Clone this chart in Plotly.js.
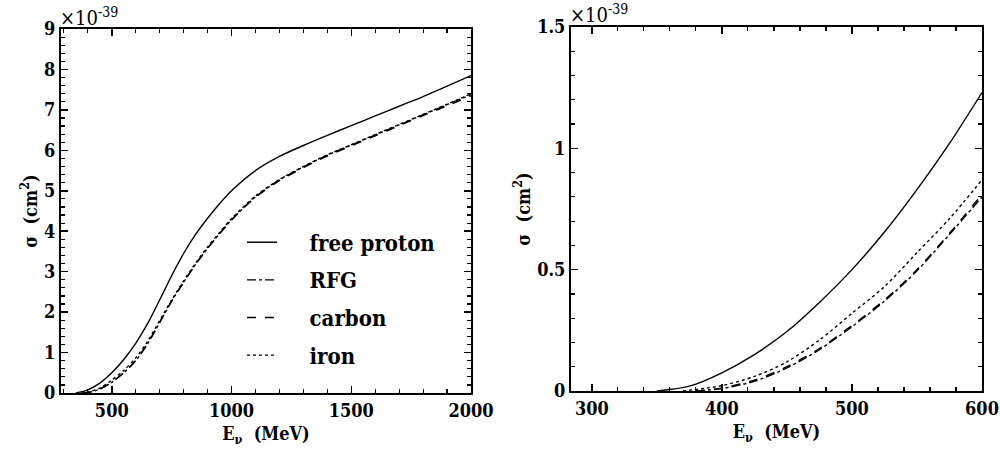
<!DOCTYPE html>
<html>
<head>
<meta charset="utf-8">
<script src="https://cdn.plot.ly/plotly-3.0.1.min.js"></script>
<style>html,body{margin:0;padding:0;background:#fff}#chart{width:1000px;height:452px}</style>
</head>
<body>
<div id="chart"></div>
<script>
// Left panel: E (MeV) vs sigma (1e-39 cm^2)
const leftProtonE = [350, 400, 450, 500, 550, 600, 650, 700, 750, 800, 850, 900, 950, 1000, 1100, 1200, 1300, 1400, 1500, 1600, 1700, 1800, 1900, 2000];
const leftProtonS = [0, 0.08, 0.245, 0.5, 0.83, 1.23, 1.72, 2.3, 2.9, 3.45, 3.92, 4.32, 4.68, 5.0, 5.5, 5.85, 6.12, 6.37, 6.61, 6.85, 7.09, 7.33, 7.59, 7.85];
const leftNuclE = [380, 400, 450, 500, 550, 600, 650, 700, 750, 800, 850, 900, 950, 1000, 1100, 1200, 1300, 1400, 1500, 1600, 1700, 1800, 1900, 2000];
const leftRFGS = [0, 0.01, 0.095, 0.265, 0.5, 0.8, 1.22, 1.74, 2.27, 2.74, 3.18, 3.58, 3.94, 4.28, 4.85, 5.27, 5.59, 5.88, 6.13, 6.38, 6.63, 6.88, 7.13, 7.38];
const leftCarbonS = [0, 0.012, 0.1, 0.27, 0.5, 0.81, 1.23, 1.75, 2.27, 2.74, 3.18, 3.58, 3.94, 4.28, 4.84, 5.25, 5.57, 5.86, 6.11, 6.36, 6.61, 6.86, 7.1, 7.35];
const leftIronE = [370, 400, 450, 500, 550, 600, 650, 700, 750, 800, 850, 900, 950, 1000, 1100, 1200, 1300, 1400, 1500, 1600, 1700, 1800, 1900, 2000];
const leftIronS = [0, 0.022, 0.12, 0.32, 0.56, 0.87, 1.28, 1.79, 2.3, 2.77, 3.21, 3.61, 3.97, 4.31, 4.87, 5.28, 5.6, 5.89, 6.14, 6.39, 6.64, 6.89, 7.14, 7.4];

// Right panel: zoom on threshold region
const rightProtonE = [350, 375, 400, 425, 450, 475, 500, 525, 550, 575, 600];
const rightProtonS = [0, 0.02, 0.075, 0.15, 0.245, 0.365, 0.50, 0.655, 0.83, 1.02, 1.23];
const rightRFGE = [380, 400, 425, 450, 475, 500, 525, 550, 575, 600];
const rightRFGS = [0, 0.01, 0.04, 0.095, 0.17, 0.265, 0.37, 0.495, 0.645, 0.80];
const rightCarbonE = [380, 400, 425, 450, 475, 500, 525, 550, 575, 600];
const rightCarbonS = [0, 0.012, 0.045, 0.10, 0.175, 0.27, 0.375, 0.50, 0.65, 0.81];
const rightIronE = [370, 400, 425, 450, 475, 500, 525, 550, 575, 600];
const rightIronS = [0, 0.022, 0.06, 0.12, 0.21, 0.32, 0.43, 0.57, 0.71, 0.87];

const leftXTicks = [500, 1000, 1500, 2000];
const leftYTicks = [0, 1, 2, 3, 4, 5, 6, 7, 8, 9];
const rightXTicks = [300, 400, 500, 600];
const rightYTicks = [0, 0.5, 1, 1.5];
const rightYLabels = ['0', '0.5', '1', '1.5'];

const seriesNames = ['free proton', 'RFG', 'carbon', 'iron'];
const dashes = ['solid', 'dashdot', 'dash', 'dot'];
const pad = '\u00a0\u00a0\u00a0\u00a0';

const leftX = [leftProtonE, leftNuclE, leftNuclE, leftIronE];
const leftY = [leftProtonS, leftRFGS, leftCarbonS, leftIronS];
const rightX = [rightProtonE, rightRFGE, rightCarbonE, rightIronE];
const rightY = [rightProtonS, rightRFGS, rightCarbonS, rightIronS];

const traces = [];
for (let i = 0; i < 4; i++) {
  traces.push({
    x: leftX[i], y: leftY[i], type: 'scatter', mode: 'lines',
    name: pad + seriesNames[i], legendgroup: 'g' + i,
    line: {color: '#000', width: 1.4, dash: dashes[i], shape: 'spline', smoothing: 0.8},
    xaxis: 'x', yaxis: 'y'
  });
}
for (let i = 0; i < 4; i++) {
  traces.push({
    x: rightX[i], y: rightY[i], type: 'scatter', mode: 'lines',
    name: seriesNames[i], showlegend: false,
    line: {color: '#000', width: 1.4, dash: dashes[i], shape: 'spline', smoothing: 0.8},
    xaxis: 'x2', yaxis: 'y2'
  });
}

const SERIF = '"DejaVu Serif Condensed", "DejaVu Serif", serif';
const tickFont = {family: SERIF, size: 18, color: '#000', weight: 'bold'};
const titleFont = {family: SERIF, size: 18, color: '#000', weight: 'bold'};

function axisBase() {
  return {
    showline: true, linecolor: '#000', linewidth: 2, mirror: 'allticks',
    ticks: 'inside', ticklen: 7, tickwidth: 1.5, tickcolor: '#000',
    showgrid: false, zeroline: false, tickfont: tickFont, fixedrange: true,
    ticklabeloverflow: 'allow'
  };
}

const layout = {
  width: 1000, height: 452,
  margin: {l: 0, r: 0, t: 0, b: 0},
  paper_bgcolor: '#fff', plot_bgcolor: '#fff',
  font: {family: SERIF, color: '#000'},
  showlegend: true,
  legend: {
    x: 0.242, y: 0.51, xanchor: 'left', yanchor: 'top',
    bgcolor: 'rgba(0,0,0,0)', traceorder: 'grouped', tracegroupgap: 6,
    font: {family: SERIF, size: 22, color: '#000', weight: 'bold'},
    itemwidth: 30
  },
  xaxis: Object.assign(axisBase(), {
    domain: [0.061, 0.471], range: [288, 2000], tickvals: leftXTicks,
    minor: {dtick: 100, tick0: 0, ticks: 'inside', ticklen: 4, tickcolor: '#000', tickwidth: 1.2},
    title: {text: 'E<sub>ν</sub>  (MeV)', font: titleFont, standoff: 8}, anchor: 'y'
  }),
  yaxis: Object.assign(axisBase(), {
    domain: [0.1305, 0.9358], range: [0, 9], tickvals: leftYTicks,
    minor: {dtick: 0.2, tick0: 0, ticks: 'inside', ticklen: 4, tickcolor: '#000', tickwidth: 1.2},
    title: {text: 'σ  (cm<sup>2</sup>)', font: titleFont, standoff: 2}, anchor: 'x'
  }),
  xaxis2: Object.assign(axisBase(), {
    domain: [0.571, 0.982], range: [284, 600], tickvals: rightXTicks,
    minor: {dtick: 20, tick0: 0, ticks: 'inside', ticklen: 4, tickcolor: '#000', tickwidth: 1.2},
    title: {text: 'E<sub>ν</sub>  (MeV)', font: titleFont, standoff: 8}, anchor: 'y2'
  }),
  yaxis2: Object.assign(axisBase(), {
    domain: [0.135, 0.9403], range: [0, 1.5], tickvals: rightYTicks, ticktext: rightYLabels,
    minor: {dtick: 0.1, tick0: 0, ticks: 'inside', ticklen: 4, tickcolor: '#000', tickwidth: 1.2},
    title: {text: 'σ  (cm<sup>2</sup>)', font: titleFont, standoff: 2}, anchor: 'x2'
  }),
  annotations: [
    {xref: 'paper', yref: 'paper', x: 0.058, y: 0.93, xanchor: 'left', yanchor: 'bottom', showarrow: false,
     text: '×10<sup>-39</sup>', font: {family: SERIF, size: 20, color: '#000'}},
    {xref: 'paper', yref: 'paper', x: 0.568, y: 0.935, xanchor: 'left', yanchor: 'bottom', showarrow: false,
     text: '×10<sup>-39</sup>', font: {family: SERIF, size: 20, color: '#000'}}
  ]
};

Plotly.newPlot('chart', traces, layout, {displayModeBar: false, staticPlot: true});
</script>
</body>
</html>
